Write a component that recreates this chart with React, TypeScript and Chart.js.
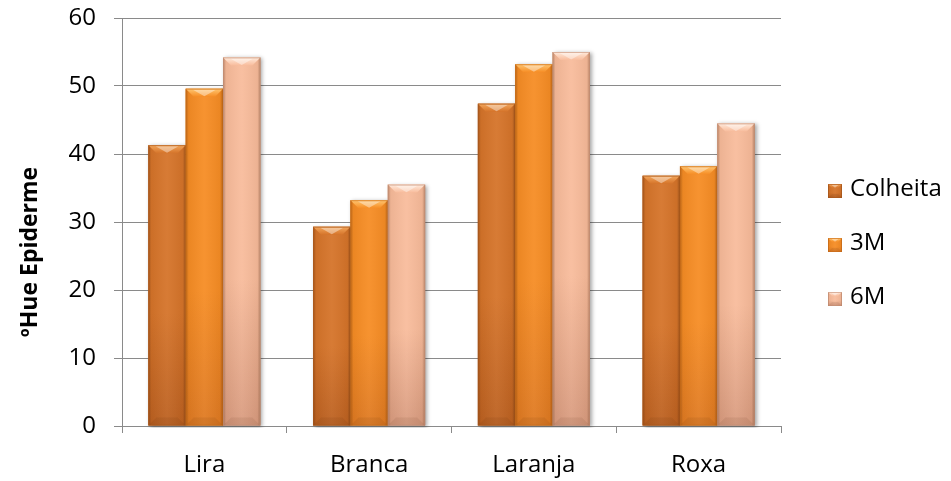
import React, { useEffect, useRef } from "react";
import { Chart, registerables } from "chart.js";

Chart.register(...registerables);

// Cultivars on the category axis
const categories = ["Lira", "Branca", "Laranja", "Roxa"];
// Series names (storage time)
const seriesNames = ["Colheita", "3M", "6M"];
// ºHue of the skin per cultivar
const colheitaValues = [41.3, 29.3, 47.4, 36.8];
const tresMValues = [49.6, 33.2, 53.2, 38.2];
const seisMValues = [54.2, 35.5, 55.0, 44.5];
// Value axis
const yMin = 0;
const yMax = 60;
const yStep = 10;
const yTitle = "ºHue Epiderme";

const FONT = "'Open Sans', 'Noto Sans', 'DejaVu Sans', sans-serif";

type Palette = { light: string; base: string; dark: string; bottom: string };
const palettes: Palette[] = [
  { light: "#F3A75C", base: "#D5742A", dark: "#A9561A", bottom: "#BC6121" },
  { light: "#FFC772", base: "#F68D25", dark: "#C96B18", bottom: "#DF7A22" },
  { light: "#FFEBDD", base: "#F8BC9C", dark: "#C38D74", bottom: "#D99C80" },
];

function drawBevelBar(
  ctx: CanvasRenderingContext2D,
  left: number,
  top: number,
  right: number,
  bottom: number,
  pal: Palette,
  bevelMax: number,
  shadow: boolean
) {
  const w = right - left;
  const h = bottom - top;
  if (w <= 0 || h <= 0) return;
  const b = Math.min(bevelMax, h / 2, w / 3);

  ctx.save();
  // body with soft drop shadow
  if (shadow) {
    ctx.shadowColor = "rgba(0,0,0,0.35)";
    ctx.shadowBlur = 4;
    ctx.shadowOffsetX = 2;
    ctx.shadowOffsetY = 1;
  }
  const vg = ctx.createLinearGradient(0, top, 0, bottom);
  vg.addColorStop(0, pal.base);
  vg.addColorStop(0.6, pal.base);
  vg.addColorStop(1, pal.bottom);
  ctx.fillStyle = vg;
  ctx.fillRect(left, top, w, h);
  ctx.restore();

  ctx.save();
  // darker side edges
  const hg = ctx.createLinearGradient(left, 0, right, 0);
  hg.addColorStop(0, "rgba(60,25,0,0.32)");
  hg.addColorStop(0.08, "rgba(60,25,0,0.06)");
  hg.addColorStop(0.5, "rgba(255,255,255,0.05)");
  hg.addColorStop(0.92, "rgba(60,25,0,0.06)");
  hg.addColorStop(1, "rgba(60,25,0,0.32)");
  ctx.fillStyle = hg;
  ctx.fillRect(left, top, w, h);

  // top bevel face
  const tg = ctx.createLinearGradient(0, top, 0, top + b);
  tg.addColorStop(0, pal.light);
  tg.addColorStop(1, pal.base);
  ctx.fillStyle = tg;
  ctx.beginPath();
  ctx.moveTo(left, top);
  ctx.lineTo(right, top);
  ctx.lineTo(right - b, top + b);
  ctx.lineTo(left + b, top + b);
  ctx.closePath();
  ctx.fill();

  // lighter chevron in the middle of the top bevel
  ctx.fillStyle = "rgba(255,255,255,0.4)";
  ctx.beginPath();
  ctx.moveTo(left + b * 0.9, top + 1);
  ctx.lineTo(right - b * 0.9, top + 1);
  ctx.lineTo((left + right) / 2, top + b * 0.95);
  ctx.closePath();
  ctx.fill();

  // bottom bevel
  ctx.fillStyle = "rgba(70,30,0,0.08)";
  ctx.beginPath();
  ctx.moveTo(left, bottom);
  ctx.lineTo(right, bottom);
  ctx.lineTo(right - b, bottom - b);
  ctx.lineTo(left + b, bottom - b);
  ctx.closePath();
  ctx.fill();

  // thin outline
  ctx.strokeStyle = pal.dark;
  ctx.globalAlpha = 0.6;
  ctx.lineWidth = 1;
  ctx.strokeRect(left + 0.5, top + 0.5, w - 1, h - 1);
  ctx.restore();
}

const bevelBars = {
  id: "bevelBars",
  afterDatasetsDraw(chart: any) {
    const ctx: CanvasRenderingContext2D = chart.ctx;
    const area = chart.chartArea;
    ctx.save();
    ctx.beginPath();
    ctx.rect(area.left, area.top - 2, area.right - area.left + 6, area.bottom - area.top + 4);
    ctx.clip();
    chart.data.datasets.forEach((_ds: any, di: number) => {
      const meta = chart.getDatasetMeta(di);
      meta.data.forEach((el: any) => {
        const p = el.getProps(["x", "y", "base", "width"], true);
        drawBevelBar(
          ctx,
          p.x - p.width / 2,
          Math.min(p.y, p.base),
          p.x + p.width / 2,
          Math.max(p.y, p.base),
          palettes[di],
          8,
          true
        );
      });
    });
    ctx.restore();
  },
};

// Legend drawn at the right of the plot area
const LEGEND_X = 828;
const LEGEND_Y0 = 189;
const LEGEND_GAP = 54;
const LEGEND_BOX = 14;

const sideLegend = {
  id: "sideLegend",
  afterDraw(chart: any) {
    const ctx: CanvasRenderingContext2D = chart.ctx;
    ctx.save();
    chart.data.datasets.forEach((ds: any, i: number) => {
      const cy = LEGEND_Y0 + i * LEGEND_GAP;
      const top = cy - LEGEND_BOX / 2 + 2;
      drawBevelBar(ctx, LEGEND_X, top, LEGEND_X + LEGEND_BOX, top + LEGEND_BOX, palettes[i], 4, false);
      ctx.fillStyle = "#000";
      ctx.font = `24px ${FONT}`;
      ctx.textAlign = "left";
      ctx.textBaseline = "middle";
      ctx.fillText(ds.label, LEGEND_X + LEGEND_BOX + 8, cy);
    });
    ctx.restore();
  },
};

// Rotated value-axis title, left of the tick labels
const TITLE_X = 30;
const TITLE_Y = 252;

const axisTitle = {
  id: "axisTitle",
  afterDraw(chart: any) {
    const ctx: CanvasRenderingContext2D = chart.ctx;
    ctx.save();
    ctx.translate(TITLE_X, TITLE_Y);
    ctx.rotate(-Math.PI / 2);
    ctx.fillStyle = "#000";
    ctx.font = `bold 23px ${FONT}`;
    ctx.textAlign = "center";
    ctx.textBaseline = "middle";
    ctx.fillText(yTitle, 0, 0);
    ctx.restore();
  },
};

export default function App() {
  const canvasRef = useRef<HTMLCanvasElement | null>(null);

  useEffect(() => {
    document.body.style.margin = "0";
    const canvas = canvasRef.current;
    if (!canvas) return;
    const seriesValues = [colheitaValues, tresMValues, seisMValues];
    const chart = new Chart(canvas, {
      type: "bar",
      data: {
        labels: categories,
        datasets: seriesNames.map((name, i) => ({
          label: name,
          data: seriesValues[i],
          backgroundColor: palettes[i].base,
          borderWidth: 0,
          barPercentage: 1,
          categoryPercentage: 0.68,
        })),
      },
      options: {
        animation: false,
        responsive: false,
        maintainAspectRatio: false,
        devicePixelRatio: 1,
        layout: { padding: { left: 0, right: 170, top: 18, bottom: 0 } },
        plugins: {
          legend: { display: false },
          tooltip: { enabled: false },
        },
        scales: {
          x: {
            offset: true,
            grid: {
              offset: true,
              drawOnChartArea: false,
              drawTicks: true,
              tickLength: 7,
              color: "#8a8a8a",
              lineWidth: 1,
            },
            border: { display: true, color: "#8a8a8a", width: 1 },
            ticks: {
              color: "#000",
              font: { family: FONT, size: 24 },
              padding: 18,
            },
            afterFit(scale: any) {
              scale.height = 55;
            },
          },
          y: {
            min: yMin,
            max: yMax,
            ticks: {
              stepSize: yStep,
              color: "#000",
              font: { family: FONT, size: 24 },
              padding: 18,
            },
            grid: {
              color: "#8a8a8a",
              lineWidth: 1,
              tickLength: 8,
            },
            border: { display: true, color: "#8a8a8a", width: 1 },
            title: { display: false },
            afterFit(scale: any) {
              scale.width = 122;
              scale.paddingTop = 0;
              scale.paddingBottom = 0;
            },
          },
        },
      },
      plugins: [bevelBars, sideLegend, axisTitle],
    });
    return () => chart.destroy();
  }, []);

  return (
    <div style={{ width: 951, height: 481, background: "#fff" }}>
      <canvas ref={canvasRef} width={951} height={481} style={{ display: "block" }} />
    </div>
  );
}
